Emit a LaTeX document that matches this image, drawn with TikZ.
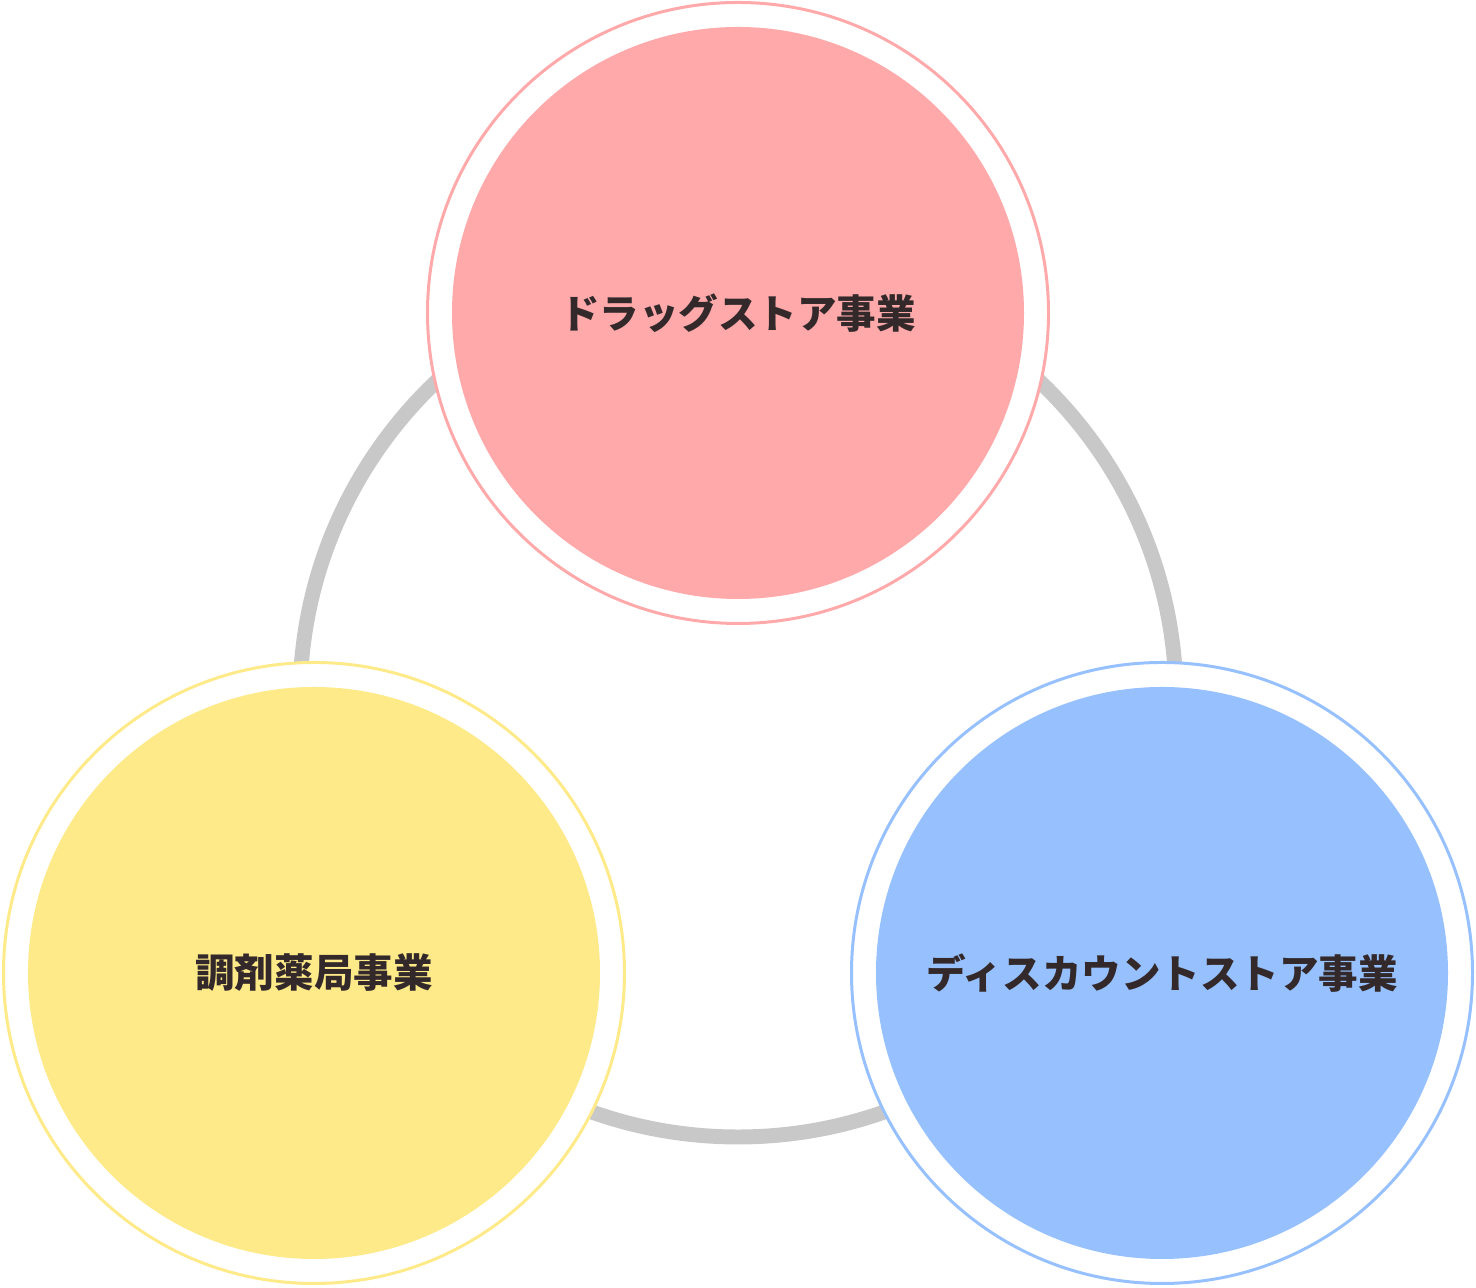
\documentclass[tikz,border=0pt]{standalone}
\usepackage{fontspec}
\usepackage{xcolor}
\usepackage{tikz}
\usetikzlibrary{positioning}
\newfontfamily\jpfont{Noto Sans CJK JP}
\definecolor{ringgray}{HTML}{C8C8C8}
\definecolor{drugpink}{HTML}{FFA9AA}
\definecolor{pharmyellow}{HTML}{FEEA88}
\definecolor{discblue}{HTML}{97C1FE}
\definecolor{textdark}{HTML}{33292B}

\begin{document}
\begin{tikzpicture}[
  font=\jpfont\bfseries\fontsize{22.5}{27}\selectfont,
  outer/.style={circle,draw=#1,line width=1.7pt,fill=white,minimum size=12.42cm,inner sep=0pt},
  inner/.style={circle,fill=#1,minimum size=11.44cm,inner sep=0pt,text=textdark}
]
\useasboundingbox (0,0) rectangle (29.52,25.76);
% linking ring
\draw[ringgray,line width=8.5pt] (14.76,11.78) circle (8.76cm);
% drugstore
\node[outer=drugpink] (drugO) at (14.76,19.50) {};
\node[inner=drugpink] (drug) at (drugO.center) {ドラッグストア事業};
% pharmacy
\node[outer=pharmyellow] (pharmO) at (6.28,6.30) {};
\node[inner=pharmyellow] (pharm) at (pharmO.center) {調剤薬局事業};
% discount store
\node[outer=discblue] (discO) at (23.24,6.30) {};
\node[inner=discblue] (disc) at (discO.center) {ディスカウントストア事業};
\end{tikzpicture}
\end{document}
